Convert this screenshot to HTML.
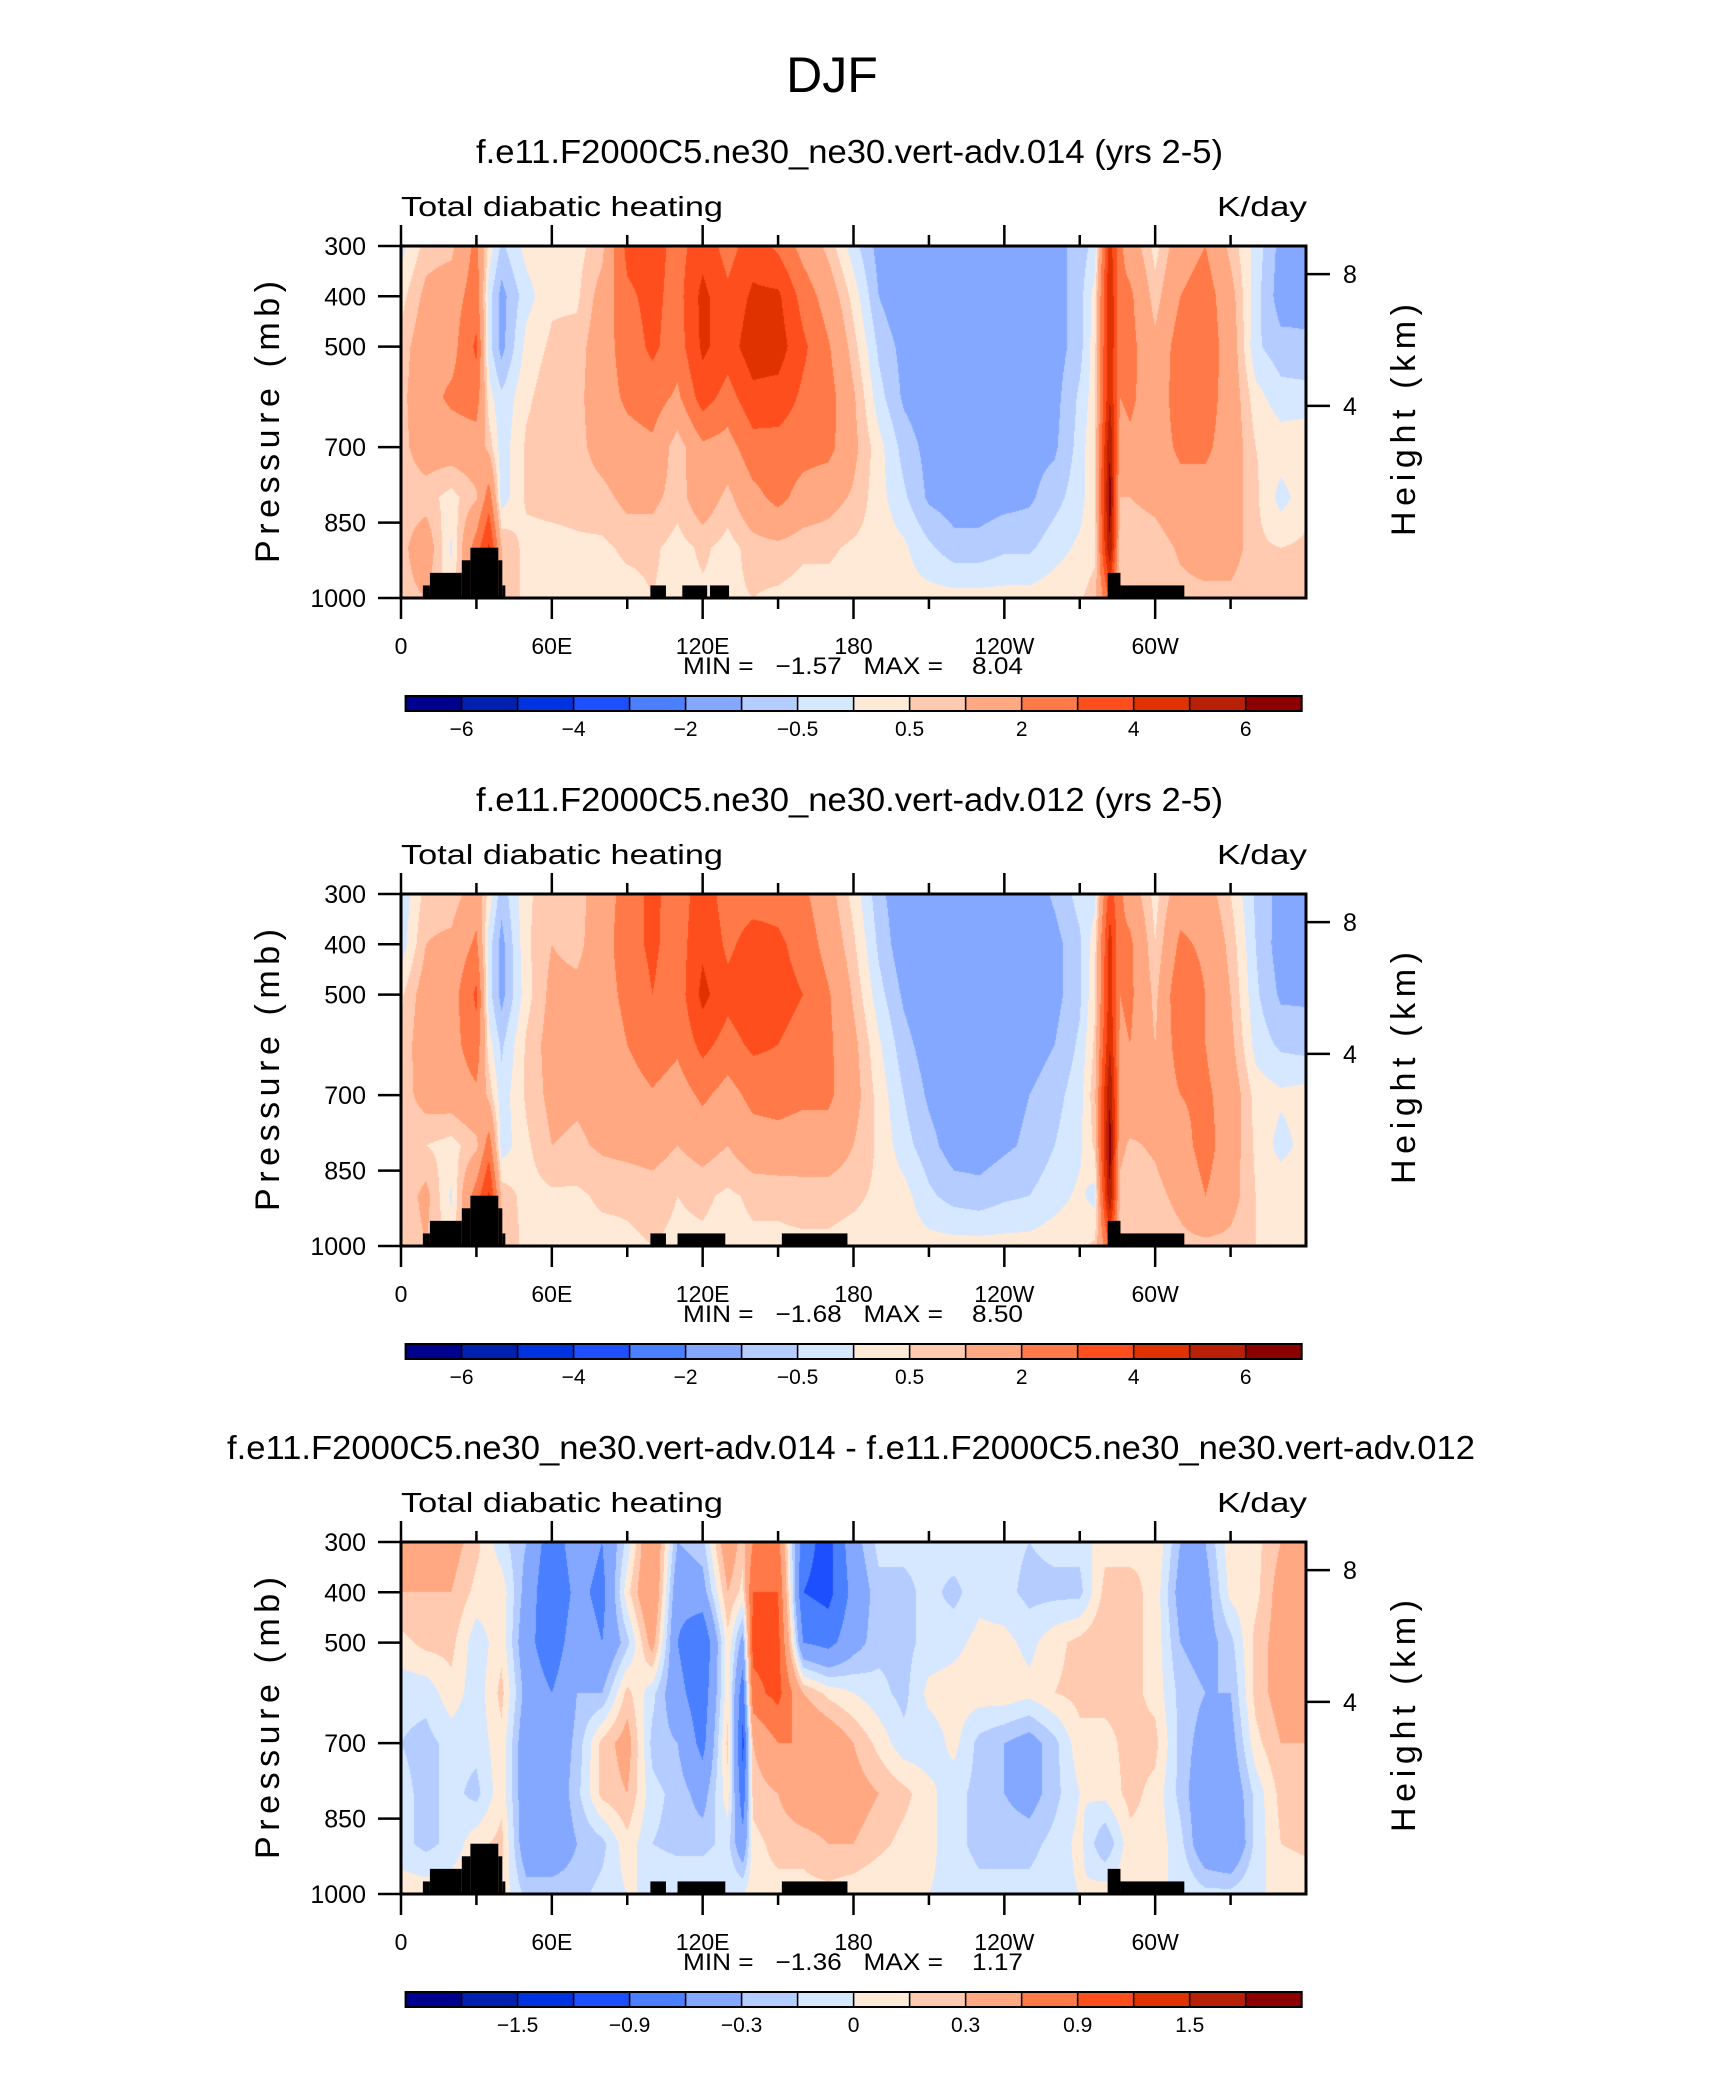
<!DOCTYPE html>
<html><head><meta charset="utf-8">
<style>
html,body{margin:0;padding:0;background:#fff;}
#root{position:relative;width:1710px;height:2074px;overflow:hidden;background:#fff;}
canvas{position:absolute;}
svg{position:absolute;left:0;top:0;}
text{font-family:"Liberation Sans",sans-serif;fill:#000;}
.pre{white-space:pre;}
</style></head>
<body>
<div id="root">
<canvas id="c0" width="905" height="352" style="left:401px;top:246px"></canvas>
<canvas id="c1" width="905" height="352" style="left:401px;top:894px"></canvas>
<canvas id="c2" width="905" height="352" style="left:401px;top:1542px"></canvas>
<svg id="svg" width="1710" height="2074"></svg>
</div>
<script>
// ---- data ----
const levels = [300,400,500,600,700,800,900,1000];
const lon1 = [0,10,20,30,35,40,50,60,70,80,90,100,110,120,130,140,150,160,170,180,190,200,210,220,230,240,250,260,270,276,282,286,290,300,310,320,330,340,350,360];
const heat1 = [
[-0.2,0.3,0.7,0.8,0.8,0.7,0.8,0.8],
[0.7,1.2,1.5,1.6,1.4,0.7,1.5,1.0],
[0.8,1.5,1.6,2.2,1.4,0.3,-0.1,0.3],
[2.3,2.5,3.2,2.5,1.5,0.9,2.5,2],
[0.3,-0.3,-0.3,0.2,0.8,2.5,4.2,3],
[-0.6,-1.2,-1.2,-0.4,-0.3,-0.3,1.0,1.0],
[0.2,-0.2,0.2,0.4,0.6,0.6,0.3,0.3],
[0.3,0.4,0.6,0.8,0.8,0.7,0.3,0.2],
[0.3,0.4,0.7,0.8,0.8,0.7,0.4,0.3],
[0.8,1.3,1.5,1.5,1.3,0.8,0.4,0.3],
[3.3,2.8,2.5,2.2,1.6,1.2,0.6,0.3],
[3.5,3.3,3.2,2.5,1.8,1.2,0.6,0.5],
[2.6,2.6,2.5,1.8,0.6,0.7,0.3,0.3],
[3.6,4.3,4.2,3.5,1.8,1.5,0.6,0.4],
[2.6,3.2,3.5,2.6,1.6,0.8,0.3,0.4],
[3.5,4.2,4.6,3.7,2.6,1.7,0.7,0.5],
[2.8,4.2,4.5,3.6,2.6,2.3,0.8,0.4],
[1.6,2.6,3.2,2.8,2.4,1.6,0.6,0.3],
[0.8,1.5,2.1,2.4,2.3,1.3,0.6,0.3],
[-0.3,0.3,0.7,1.1,1.2,0.9,0.4,0.2],
[-1.2,-1.0,-0.6,-0.3,0.2,0.2,0.3,0.2],
[-1.5,-1.5,-1.2,-1.1,-0.7,-0.4,0.1,0.2],
[-1.5,-1.5,-1.5,-1.4,-1.2,-1.1,-0.4,0.2],
[-1.5,-1.5,-1.5,-1.5,-1.4,-1.3,-0.8,0.2],
[-1.5,-1.5,-1.5,-1.5,-1.4,-1.3,-0.8,0.2],
[-1.5,-1.5,-1.5,-1.4,-1.3,-1.2,-0.6,0.2],
[-1.4,-1.4,-1.4,-1.3,-1.2,-1.1,-0.6,0.2],
[-1.2,-1.3,-1.3,-1.2,-1.1,-0.7,-0.2,0.3],
[-0.8,-0.7,-0.7,-0.4,-0.3,-0.2,0.1,0.4],
[-0.3,0.2,0.3,0.3,0.5,0.4,0.3,0.8],
[4.5,5,5,5,6,6.5,6,3],
[2.2,2.2,2.2,2.0,1.6,1.0,0.6,0.6],
[1.5,2.2,2.3,2.2,1.8,1.0,0.6,0.5],
[0.3,0.7,1.2,1.4,1.5,1.2,0.7,0.6],
[1.5,2.0,2.5,2.5,2.2,1.6,1.1,0.8],
[2,2.5,2.6,2.5,2.2,1.6,1.4,0.8],
[0.8,1.3,1.5,1.5,1.5,1.4,1.4,0.8],
[-0.2,-0.3,-0.4,0.2,0.5,0.6,0.6,0.5],
[-1.2,-1.3,-0.8,-0.3,0.3,-0.2,0.5,0.5],
[-1.0,-1.2,-0.9,-0.3,0.4,0.3,0.6,0.6]
];
const lon2 = lon1;
const heat2 = [
[-0.4,-0.3,0.4,0.6,0.7,0.6,0.6,0.6],
[0.7,1.0,1.4,1.5,1.3,0.5,1.2,1.0],
[0.6,1.2,1.5,1.6,1.4,0.3,-0.1,0.3],
[1.5,2.2,3.2,2.6,1.8,0.8,2.5,2],
[0.3,-0.3,-0.3,0.2,0.8,2.5,4.2,3],
[-0.8,-1.2,-1.2,-0.6,-0.3,-0.3,0.8,1.0],
[0.4,0.4,0.3,0.6,0.6,0.4,0.3,0.3],
[0.8,1.0,1.2,1.3,1.2,1.0,0.4,0.3],
[0.7,0.8,1.2,1.0,1.1,0.9,0.4,0.3],
[1.5,1.5,1.5,1.3,1.2,1.1,0.6,0.3],
[2.4,2.6,2.3,2.0,1.5,1.2,0.6,0.4],
[3.3,3.2,3.0,2.6,1.9,1.3,0.7,0.5],
[2.4,2.5,2.4,2.2,1.5,1.0,0.5,0.4],
[3.6,3.8,4.3,3.3,2.2,1.3,0.6,0.4],
[2.5,2.8,3.3,2.6,1.6,1.0,0.4,0.3],
[2.6,3.4,3.8,3.2,2.3,1.5,0.6,0.4],
[2.6,3.2,3.4,3.0,2.4,1.6,0.6,0.4],
[2.2,2.6,3.0,2.6,2.2,1.5,0.7,0.4],
[1.3,1.6,2.1,2.2,2.2,1.5,0.7,0.4],
[0.3,0.6,0.9,1.2,1.3,1.0,0.6,0.3],
[-0.8,-0.6,-0.3,0.1,0.3,0.4,0.4,0.3],
[-1.5,-1.4,-1.1,-0.8,-0.5,-0.3,0.2,0.3],
[-1.5,-1.5,-1.5,-1.3,-1.1,-0.8,-0.4,0.2],
[-1.5,-1.5,-1.5,-1.5,-1.4,-1.3,-0.7,0.2],
[-1.5,-1.5,-1.5,-1.5,-1.4,-1.3,-0.8,0.2],
[-1.5,-1.5,-1.5,-1.4,-1.2,-1.1,-0.6,0.2],
[-1.4,-1.4,-1.4,-1.3,-1.0,-0.9,-0.5,0.2],
[-0.9,-1.2,-1.2,-1.0,-0.7,-0.5,-0.2,0.3],
[-0.3,-0.6,-0.6,-0.4,-0.2,-0.1,0.1,0.4],
[-0.2,0.3,0.4,0.6,0.8,0.6,-0.2,0.6],
[3.5,4.5,4.5,5,6,6.5,6,3],
[2.2,2.2,2.0,1.8,1.6,1.2,0.8,0.8],
[1.5,2.2,2.2,2.0,1.6,0.9,0.6,0.5],
[0.3,0.5,0.8,1.0,1.2,1.1,0.8,0.6],
[1.5,2.2,2.8,2.5,2.0,1.6,1.2,0.8],
[1.4,1.8,2.0,2.0,2.2,2.4,2.0,0.8],
[0.5,0.8,1.0,1.2,1.5,1.4,1.3,0.8],
[-0.6,-0.5,-0.4,-0.2,0.3,0.4,0.5,0.5],
[-1.2,-1.3,-1.1,-0.6,0.1,-0.2,0.4,0.5],
[-1.2,-1.3,-1.1,-0.7,0.2,0.2,0.5,0.5]
];
const lon3 = [0,10,20,30,40,50,60,70,80,90,100,110,120,130,136,140,150,160,170,180,190,200,210,220,230,240,250,260,270,280,290,300,310,320,330,340,350,360];
const heat3 = [
[0.4,0.3,0.1,-0.1,-0.15,-0.1,-0.1,0.1],
[0.3,0.3,0.2,-0.1,-0.2,-0.2,-0.2,0.1],
[0.4,0.3,0.2,0.1,-0.1,-0.1,-0.1,0.1],
[0.2,0.1,-0.1,-0.1,-0.1,-0.2,0.1,0.1],
[-0.1,0.1,0.1,0.2,0.1,0.1,0.2,0.1],
[-0.3,-0.4,-0.5,-0.4,-0.5,-0.5,-0.5,-0.2],
[-0.8,-0.9,-0.8,-0.6,-0.5,-0.5,-0.5,-0.2],
[-0.4,-0.5,-0.4,-0.3,-0.25,-0.2,-0.3,-0.2],
[-0.6,-0.7,-0.6,-0.3,0.2,0.2,-0.2,-0.1],
[-0.1,0.1,-0.2,0.2,0.4,0.3,0.1,0.0],
[0.6,0.6,0.4,-0.1,-0.2,-0.1,-0.15,0.0],
[-0.3,-0.5,-0.6,-0.5,-0.3,-0.2,-0.2,0.0],
[-0.2,-0.4,-0.9,-0.8,-0.7,-0.4,-0.2,0.0],
[0.5,0.3,0.1,0.1,0.2,0.1,-0.1,0.0],
[0.2,0.1,-0.4,-0.8,-1.0,-0.8,-0.5,0.0],
[0.6,0.9,1.0,0.8,0.3,0.2,0.1,0.1],
[0.7,0.9,1.0,1.0,0.6,0.3,0.2,0.1],
[-0.8,-0.9,-0.6,0.3,0.6,0.5,0.2,0.1],
[-1.0,-1.0,-0.7,0.1,0.5,0.5,0.3,0.1],
[-0.4,-0.5,-0.4,0.0,0.3,0.4,0.3,0.05],
[-0.1,-0.2,-0.2,-0.1,0.1,0.3,0.2,0.0],
[-0.1,-0.2,-0.2,-0.2,-0.1,0.2,0.1,0.0],
[-0.1,-0.1,-0.1,0.05,-0.1,0.05,0.05,0.0],
[-0.05,-0.2,-0.05,0.08,0.05,-0.1,-0.1,-0.05],
[-0.05,-0.05,0.05,0.08,-0.2,-0.2,-0.2,-0.1],
[-0.1,-0.1,0.05,0.1,-0.3,-0.3,-0.2,-0.1],
[-0.15,-0.2,-0.05,0.05,-0.4,-0.4,-0.2,-0.1],
[-0.1,-0.2,0.1,0.15,-0.2,-0.2,-0.1,-0.05],
[-0.1,-0.2,0.2,0.2,0.1,0.0,0.05,0.0],
[0.1,0.2,0.3,0.2,0.1,0.05,-0.3,0.1],
[0.1,0.2,0.2,0.2,0.2,0.2,0.1,0.1],
[0.15,0.1,0.1,0.1,0.2,0.1,0.1,0.0],
[-0.3,-0.4,-0.3,-0.2,-0.2,-0.2,-0.1,0.0],
[-0.3,-0.4,-0.4,-0.3,-0.4,-0.5,-0.5,-0.1],
[0.1,0.05,-0.2,-0.3,-0.4,-0.5,-0.6,-0.1],
[0.1,0.1,0.2,0.2,0.1,-0.1,-0.1,0.0],
[0.3,0.4,0.4,0.4,0.3,0.2,0.15,0.0],
[0.3,0.4,0.4,0.4,0.3,0.2,0.2,0.0]
];
// topography blocks: [lon start, lon end, top pressure]
const topoBase = [[8.7,11.5,975],[11.5,24.2,950],[24.2,27.6,925],[27.6,38.7,900],[38.7,40.3,925],[40.3,41.5,975],[99.2,105.4,975],[281.1,286.2,950],[286.2,311.6,975]];
const topo1Extra = [[111.9,121.8,975],[122.9,130.5,975]];
const topo2Extra = [[110,129,975],[151.5,177.6,975]];
const levelsAbs = [-6,-5,-4,-3,-2,-1,-0.5,0,0.5,1,2,3,4,5,6];
const levelsDiff = [-1.8,-1.5,-1.2,-0.9,-0.6,-0.3,-0.15,0,0.15,0.3,0.6,0.9,1.2,1.5,1.8];
const cbLabelsAbs = ["−6","−4","−2","−0.5","0.5","2","4","6"];
const cbLabelsDiff = ["−1.5","−0.9","−0.3","0","0.3","0.9","1.5"];
const cbLabelIdxAbs = [0,2,4,6,8,10,12,14];
const cbLabelIdxDiff = [1,3,5,7,9,11,13];
const lonTickVals = [0,60,120,180,240,300];
const lonTickLabels = ["0","60E","120E","180","120W","60W"];
const presTicks = [300,400,500,700,850,1000];
const kmTicks = [8,4];
const kmTickP = [356,618];
const titles = ["f.e11.F2000C5.ne30_ne30.vert-adv.014 (yrs 2-5)","f.e11.F2000C5.ne30_ne30.vert-adv.012 (yrs 2-5)","f.e11.F2000C5.ne30_ne30.vert-adv.014 - f.e11.F2000C5.ne30_ne30.vert-adv.012"];
const minMax = [["−1.57","8.04"],["−1.68","8.50"],["−1.36","1.17"]];
const colors = ["#00008f","#0020b0","#0033e0","#1e4fff","#4a80ff","#84a8ff","#b4ccff","#d6e8ff","#ffead8","#ffcab0","#ffa882","#ff7a48","#ff4e1e","#e03200","#b82008","#8b0000"];

// ---- geometry ----
const PX = 401, PW = 905, PH = 352, PT0 = 246, DY = 648;
function xOf(lon){ return PX + lon/360*PW; }
function yOf(p, top){ return top + (p-300)/700*PH; }
function hex(c){ return [parseInt(c.substr(1,2),16),parseInt(c.substr(3,2),16),parseInt(c.substr(5,2),16)]; }
const rgb = colors.map(hex);

function drawField(id, lons, vals, lev){
  const cv = document.getElementById(id), ctx = cv.getContext('2d');
  const img = ctx.createImageData(PW, PH);
  for(let px=0; px<PW; px++){
    const lon = (px+0.5)/PW*360;
    let i=0; while(i<lons.length-2 && lons[i+1]<lon) i++;
    const fx = Math.min(1,Math.max(0,(lon-lons[i])/(lons[i+1]-lons[i])));
    for(let py=0; py<PH; py++){
      const p = 300 + (py+0.5)/PH*700;
      let j = Math.min(levels.length-2, Math.floor((p-300)/100));
      const fy = (p-levels[j])/(levels[j+1]-levels[j]);
      const v = (1-fx)*((1-fy)*vals[i][j]+fy*vals[i][j+1]) + fx*((1-fy)*vals[i+1][j]+fy*vals[i+1][j+1]);
      let k=0; while(k<lev.length && v>=lev[k]) k++;
      const c = rgb[k], o = (py*PW+px)*4;
      img.data[o]=c[0]; img.data[o+1]=c[1]; img.data[o+2]=c[2]; img.data[o+3]=255;
    }
  }
  ctx.putImageData(img,0,0);
}
drawField('c0', lon1, heat1, levelsAbs);
drawField('c1', lon2, heat2, levelsAbs);
drawField('c2', lon3, heat3, levelsDiff);

const svg = document.getElementById('svg');
const NS = "http://www.w3.org/2000/svg";
function el(tag, attrs, parent){
  const e = document.createElementNS(NS, tag);
  for(const k in attrs) e.setAttribute(k, attrs[k]);
  (parent||svg).appendChild(e); return e;
}
function txt(s, attrs, parent){ const t = el('text', attrs, parent); t.textContent = s; return t; }

const djf = txt("DJF", {x:832, y:92, 'font-size':50, 'text-anchor':'middle'});



for(let pi=0; pi<3; pi++){
  const top = PT0 + pi*DY, bot = top+PH;
  const g = el('g', {});
  
  
  const tl = pi<2 ? {x:476, w:747} : {x:227, w:1248};
  const t = txt(titles[pi], {x:tl.x, y:top-83, 'font-size':33, textLength:tl.w, lengthAdjust:'spacingAndGlyphs'}, g);
  
  
  const sub = txt("Total diabatic heating", {x:401, y:top-30, 'font-size':28, textLength:322, lengthAdjust:'spacingAndGlyphs'}, g);
  
  
  const un = txt("K/day", {x:1307, y:top-30, 'font-size':28, 'text-anchor':'end', textLength:90, lengthAdjust:'spacingAndGlyphs'}, g);
  
  
  const topo = topoBase.concat(pi===0 ? topo1Extra : topo2Extra);
  topo.forEach(b => {
    const r = el('rect', {x:xOf(b[0]), y:yOf(b[2],top), width:xOf(b[1])-xOf(b[0]), height:bot-yOf(b[2],top), fill:'#000'}, g);
    
    
  });
  const fr = el('rect', {x:PX, y:top, width:PW, height:PH, fill:'none', stroke:'#000', 'stroke-width':3}, g);
  
  
  for(let lon=0; lon<=330; lon+=30){
    const major = lon%60===0, x = xOf(lon), L = major?21:11;
    el('line', {x1:x, x2:x, y1:top, y2:top-L, stroke:'#000', 'stroke-width':2.5}, g);
    el('line', {x1:x, x2:x, y1:bot, y2:bot+L, stroke:'#000', 'stroke-width':2.5}, g);
  }
  lonTickVals.forEach((v,k) => {
    const l = txt(lonTickLabels[k], {x:xOf(v), y:bot+56, 'font-size':23, 'text-anchor':'middle'}, g);
    
    
  });
  const mm = txt("MIN =   " + minMax[pi][0] + "   MAX =    " + minMax[pi][1], {x:853, y:bot+76, 'font-size':24, 'text-anchor':'middle', 'class':'pre', textLength:340, lengthAdjust:'spacingAndGlyphs'}, g);
  
  
  presTicks.forEach(p => {
    const y = yOf(p, top);
    el('line', {x1:378, x2:PX, y1:y, y2:y, stroke:'#000', 'stroke-width':2.5}, g);
    const l = txt(String(p), {x:366, y:y+9, 'font-size':25, 'text-anchor':'end'}, g);
    
    
  });
  kmTicks.forEach((km,k) => {
    const y = yOf(kmTickP[k], top);
    el('line', {x1:PX+PW, x2:1330, y1:y, y2:y, stroke:'#000', 'stroke-width':2.5}, g);
    const l = txt(String(km), {x:1350, y:y+9, 'font-size':25, 'text-anchor':'middle'}, g);
    
    
  });
  const yc = top + PH/2;
  const pl = txt("Pressure (mb)", {x:0, y:0, 'font-size':34, 'text-anchor':'middle', textLength:282, lengthAdjust:'spacing', transform:'translate(279,'+yc+') rotate(-90)'}, g);
  
  
  const hl = txt("Height (km)", {x:0, y:0, 'font-size':34, 'text-anchor':'middle', textLength:232, lengthAdjust:'spacing', transform:'translate(1415,'+(yc-2)+') rotate(-90)'}, g);
  
  
  const cbx0 = 405.6, cbx1 = 1301.7, cby = top + 450, cbh = 15, bw = (cbx1-cbx0)/16;
  const cb = el('g', {}, g);
  
  
  colors.forEach((c,k) => {
    const r = el('rect', {x:cbx0+k*bw, y:cby, width:bw, height:cbh, fill:c, stroke:'#000', 'stroke-width':1.5}, cb);
    
    
  });
  el('rect', {x:cbx0, y:cby, width:cbx1-cbx0, height:cbh, fill:'none', stroke:'#000', 'stroke-width':2}, cb);
  const labs = pi<2 ? cbLabelsAbs : cbLabelsDiff, idx = pi<2 ? cbLabelIdxAbs : cbLabelIdxDiff;
  labs.forEach((s,k) => {
    const l = txt(s, {x:cbx0+(idx[k]+1)*bw, y:cby+cbh+25, 'font-size':21, 'text-anchor':'middle'}, cb);
    
    
  });
}
</script>
</body></html>
